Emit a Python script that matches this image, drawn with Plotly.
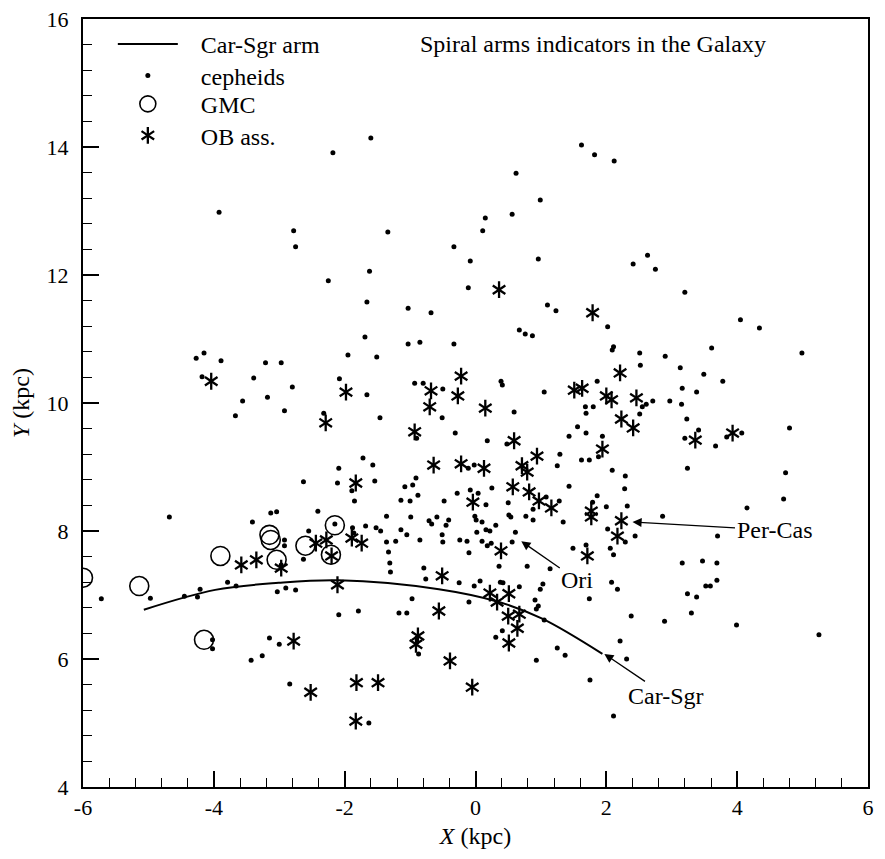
import plotly.graph_objects as go

# ---------------- data (kpc) ----------------
arm_x = [-5.07, -3.98, -3.01, -2.09, -0.56, 0.36, 1.02, 1.94]
arm_y = [6.77, 7.08, 7.19, 7.23, 7.09, 6.89, 6.63, 6.08]

cep_x = [-2.18, -3.92, -2.78, -2.75, -2.25, -1.60, 1.62, 1.82, 0.62, 0.99, 0.15, 0.56, -1.34, 0.11, -0.33,
         -0.08, 0.96, -1.62, -0.11, -1.66, -1.03, -0.68, 1.10, 1.23, -1.69, 0.67, 0.76, 0.87, 2.02, 2.12,
         2.63, 2.41, 2.75, 3.20, 4.05, 4.34, -4.27, -4.15, -3.89, -4.18, -3.21, -2.97, -3.39, -2.80, -3.56,
         -3.18, -2.92, -3.67, -2.32, -1.95, -2.08, -2.09, -2.63, -2.11, -4.68, -3.13, -3.04, -3.41, -2.41, -2.55,
         -2.92, -2.92, -2.63, -2.97, -2.15, -5.72, -4.97, -4.45, -4.25, -4.21, -3.79, -3.66, -3.03, -2.90, -2.75,
         -2.09, -4.02, -4.02, -3.15, -3.00, -3.43, -3.26, -2.84, -1.31, -1.30, -0.79, -0.76, -0.25, -0.02, 0.07,
         0.36, 0.79, 1.14, 0.38, 0.42, 0.67, 1.03, 0.99, -0.10, 0.41, 0.31, 0.91, 0.96, 0.93, 1.05,
         1.74, -1.79, -1.17, -1.05, -0.97, -0.87, 0.93, 1.25, 1.37, 1.75, -1.63, 3.16, 3.47, 3.69, 2.08,
         2.17, 3.69, 3.52, 3.59, 3.24, 3.38, 2.38, 2.89, 3.30, 3.99, 5.25, 2.21, 2.31, 2.11, -1.03,
         -0.85, -0.33, -1.51, -1.66, -0.93, -0.80, -0.50, 0.39, 0.41, 1.05, 0.59, 1.86, 1.68, 1.80, 1.69,
         -1.46, -0.51, -0.90, -0.31, 0.18, 0.48, 1.56, 1.43, 1.69, 1.94, 1.29, 1.25, 1.62, 1.74, 1.88,
         -1.72, -1.57, -0.11, -0.02, -0.91, -1.89, -1.54, -1.08, -0.96, -0.88, 1.43, 1.08, -0.28, 0.04, 0.25,
         -1.14, -1.00, -1.85, -0.48, 0.16, -0.08, 0.50, 0.88, 1.28, 1.86, 2.00, 1.79, 2.02, 0.51, 0.54,
         -0.01, 0.01, 0.77, 0.88, 1.34, -1.36, -0.99, -0.71, -0.59, -0.67, -0.41, -0.45, 0.10, 0.16, 0.31,
         0.22, 0.02, 0.61, -1.14, -1.52, -1.45, -1.68, -1.88, -1.86, -1.05, -0.51, -0.50, -0.85, -1.36, -1.22,
         -0.24, -0.13, 0.10, 0.18, 0.24, 0.56, -1.33, -0.10, 1.49, 1.69, 2.11, 2.09, 2.51, 2.52, 2.90,
         3.61, 4.99, 3.13, 3.49, 3.78, 3.16, 3.38, 2.55, 2.61, 2.71, 2.97, 3.15, 2.51, 3.23, 3.20,
         3.41, 3.84, 4.07, 3.67, 4.80, 2.09, 2.29, 2.28, 3.24, 4.74, 4.71, 4.15, 2.32, 2.86, 2.29,
         2.44, 3.70, 2.06, 2.11]
cep_y = [13.91, 12.98, 12.69, 12.44, 11.91, 14.14, 14.03, 13.88, 13.59, 13.17, 12.89, 12.95, 12.67, 12.69, 12.44,
         12.22, 12.25, 12.06, 11.80, 11.58, 11.48, 11.41, 11.53, 11.44, 11.03, 11.14, 11.08, 11.05, 11.19, 13.78,
         12.31, 12.17, 12.09, 11.73, 11.30, 11.17, 10.70, 10.78, 10.66, 10.41, 10.63, 10.63, 10.39, 10.25, 10.03,
         10.09, 9.88, 9.80, 9.84, 10.75, 10.38, 8.98, 8.77, 8.75, 8.22, 8.28, 8.30, 8.14, 8.31, 8.00,
         7.86, 7.77, 7.56, 7.47, 8.11, 6.94, 6.95, 6.98, 6.97, 7.09, 7.20, 7.14, 7.05, 7.11, 7.08,
         6.69, 6.30, 6.16, 6.33, 6.23, 5.98, 6.05, 5.61, 7.50, 7.36, 7.42, 7.25, 7.19, 7.14, 7.22,
         7.45, 7.45, 7.41, 7.20, 7.19, 7.13, 7.17, 7.09, 6.89, 6.44, 6.34, 6.92, 6.83, 6.78, 6.61,
         6.94, 6.75, 6.72, 6.72, 6.94, 6.08, 5.98, 6.17, 6.06, 5.67, 5.00, 7.50, 7.53, 7.50, 7.20,
         7.09, 7.23, 7.14, 7.14, 7.02, 6.97, 6.67, 6.59, 6.72, 6.53, 6.38, 6.28, 6.00, 5.11, 10.92,
         10.95, 10.92, 10.72, 10.13, 10.31, 10.31, 10.22, 10.34, 10.28, 10.17, 9.86, 10.34, 9.94, 9.94, 9.84,
         9.77, 9.77, 9.45, 9.53, 9.41, 9.36, 9.63, 9.48, 9.53, 9.48, 9.20, 9.02, 9.11, 9.11, 9.16,
         9.14, 9.03, 8.98, 9.03, 8.83, 8.63, 8.78, 8.69, 8.72, 8.56, 8.70, 8.53, 8.59, 8.59, 8.67,
         8.48, 8.47, 8.47, 8.47, 8.41, 8.64, 8.44, 8.34, 8.47, 8.55, 8.38, 8.45, 8.03, 8.25, 8.22,
         8.23, 8.17, 8.23, 8.17, 8.14, 8.23, 8.22, 8.16, 8.22, 8.11, 8.17, 8.09, 8.14, 8.02, 8.09,
         8.00, 7.98, 7.98, 8.02, 8.05, 8.00, 8.08, 8.05, 7.97, 7.94, 7.94, 7.83, 7.86, 7.83, 7.84,
         7.86, 7.84, 7.84, 7.77, 7.81, 7.83, 7.67, 7.66, 7.73, 7.78, 10.88, 10.83, 10.78, 10.59, 10.73,
         10.86, 10.78, 10.55, 10.45, 10.34, 10.23, 10.17, 9.94, 9.98, 10.03, 10.03, 9.98, 9.83, 9.75, 9.45,
         9.58, 9.47, 9.53, 9.33, 9.61, 8.95, 8.86, 8.66, 8.98, 8.91, 8.50, 8.36, 8.39, 8.23, 7.83,
         7.92, 7.92, 7.73, 7.63]

gmc_x = [-6.00, -5.14, -3.90, -3.15, -3.13, -3.04, -2.60, -2.15, -2.21, -4.15]
gmc_y = [7.27, 7.14, 7.61, 7.94, 7.86, 7.55, 7.77, 8.09, 7.63, 6.30]

ob_x = [-4.04, -2.29, -1.98, 0.36, 1.79, -0.22, -0.68, -0.27, -0.70, 0.15, -0.93, 0.59, 0.94, 1.51, 1.63,
        2.00, 2.08, 2.21, 2.46, 2.23, 2.41, 3.36, 3.93, 1.94, 2.23, 2.17, 1.77, 1.77, 1.71, -0.64,
        -0.22, 0.13, 0.71, 0.79, 0.57, 0.82, 0.97, 1.16, -0.04, 0.39, -1.83, -1.89, -1.74, -3.58, -3.35,
        -2.97, -2.44, -2.28, -2.20, -2.11, -0.51, 0.22, 0.51, 0.33, 0.50, 0.67, 0.64, 0.51, -0.56, -0.88,
        -0.91, -0.39, -0.05, -1.82, -1.49, -1.83, -2.78, -2.52]
ob_y = [10.34, 9.69, 10.17, 11.77, 11.41, 10.42, 10.19, 10.11, 9.94, 9.92, 9.55, 9.41, 9.17, 10.20, 10.23,
        10.11, 10.05, 10.47, 10.08, 9.75, 9.61, 9.42, 9.53, 9.28, 8.16, 7.92, 8.31, 8.22, 7.61, 9.03,
        9.05, 8.98, 9.02, 8.92, 8.69, 8.61, 8.47, 8.36, 8.45, 7.69, 8.75, 7.89, 7.81, 7.47, 7.55,
        7.42, 7.81, 7.86, 7.61, 7.16, 7.30, 7.03, 7.02, 6.89, 6.67, 6.70, 6.48, 6.25, 6.75, 6.36,
        6.23, 5.97, 5.56, 5.63, 5.63, 5.03, 6.28, 5.48]

x_tick_vals = [-6, -4, -2, 0, 2, 4, 6]
x_tick_text = ["-6", "-4", "-2", "0", "2", "4", "6"]
y_tick_vals = [4, 6, 8, 10, 12, 14, 16]
y_tick_text = ["4", "6", "8", "10", "12", "14", "16"]

# labelled arrows: text, arrow-head position (kpc), text offset (px)
arrow_labels = ["Per-Cas", "Ori", "Car-Sgr"]
arrow_head_x = [2.40, 0.70, 1.97]
arrow_head_y = [8.14, 7.84, 6.08]
arrow_ax = [142, 56, 62]
arrow_ay = [8, 39, 42]

FONT = "'Liberation Serif', 'Times New Roman', Times, serif"
SP = "\u00a0\u00a0\u00a0"

fig = go.Figure()
fig.add_trace(go.Scatter(x=arm_x, y=arm_y, mode="lines", name=SP + "Car-Sgr arm", legend="legend",
                         line=dict(color="black", width=2, shape="spline")))
fig.add_trace(go.Scatter(x=cep_x, y=cep_y, mode="markers", name=SP + "cepheids", legend="legend2",
                         marker=dict(color="black", size=5)))
fig.add_trace(go.Scatter(x=gmc_x, y=gmc_y, mode="markers", name=SP + "GMC", legend="legend3",
                         marker=dict(symbol="circle-open", size=19, color="black",
                                     line=dict(width=1.6, color="black"))))
fig.add_trace(go.Scatter(x=ob_x, y=ob_y, mode="markers", name=SP + "OB ass.", legend="legend4",
                         marker=dict(symbol="y-up", size=10.5, color="black",
                                     line=dict(width=2.3, color="black"))))
fig.add_trace(go.Scatter(x=ob_x, y=ob_y, mode="markers", name="", legend="legend5",
                         marker=dict(symbol="y-down", size=10.5, color="black",
                                     line=dict(width=2.3, color="black"))))

for t, hx, hy, ax, ay in zip(arrow_labels, arrow_head_x, arrow_head_y, arrow_ax, arrow_ay):
    fig.add_annotation(x=hx, y=hy, xref="x", yref="y", text=t, showarrow=True,
                       ax=ax, ay=ay, arrowhead=2, arrowsize=1.4, arrowwidth=1.3,
                       arrowcolor="black", font=dict(family=FONT, size=24, color="black"))

fig.add_annotation(x=0.873, y=0.967, xref="paper", yref="paper", xanchor="right", yanchor="middle",
                   text="Spiral arms indicators in the Galaxy", showarrow=False,
                   font=dict(family=FONT, size=24, color="black"))

axis_common = dict(ticks="inside", ticklen=16, tickwidth=1.5, tickcolor="black",
                   showline=True, linewidth=2, linecolor="black", mirror=True,
                   showgrid=False, zeroline=False, automargin=False,
                   ticklabeloverflow="allow",
                   tickfont=dict(family=FONT, size=22, color="black"))

fig.update_xaxes(range=[-6, 6], tickmode="array", tickvals=x_tick_vals, ticktext=x_tick_text,
                 minor=dict(tickmode="linear", tick0=-6, dtick=0.4, ticks="inside", ticklen=9,
                            tickwidth=1.2, tickcolor="black"),
                 title=dict(text="<i>X</i> (kpc)", font=dict(family=FONT, size=24, color="black"),
                            standoff=8),
                 **axis_common)
fig.update_yaxes(range=[4, 16], tickmode="array", tickvals=y_tick_vals, ticktext=y_tick_text,
                 ticklabelstandoff=8,
                 minor=dict(tickmode="linear", tick0=4, dtick=0.4, ticks="inside", ticklen=9,
                            tickwidth=1.2, tickcolor="black"),
                 title=dict(text="<i>Y</i> (kpc)", font=dict(family=FONT, size=24, color="black"),
                            standoff=22),
                 **axis_common)

leg_common = dict(x=0.038, xanchor="left", yanchor="middle", bgcolor="rgba(0,0,0,0)",
                  font=dict(family=FONT, size=24, color="black"), itemwidth=60,
                  itemsizing="trace")
fig.update_layout(
    width=877, height=851,
    margin=dict(l=75, r=17, t=11, b=72),
    paper_bgcolor="white", plot_bgcolor="white",
    showlegend=True,
    legend=dict(y=0.967, **leg_common),
    legend2=dict(y=0.926, **leg_common),
    legend3=dict(y=0.889, **leg_common),
    legend4=dict(y=0.848, **leg_common),
    legend5=dict(y=0.848, **leg_common),
    font=dict(family=FONT, color="black"),
)

fig.write_html("out.html")
